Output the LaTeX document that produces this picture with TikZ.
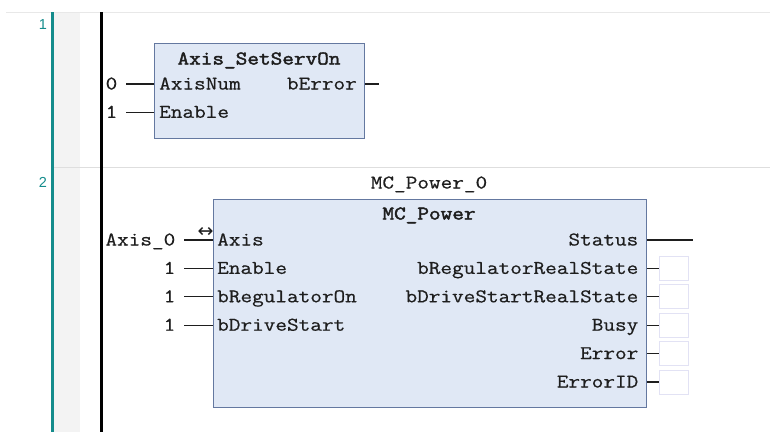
\documentclass[tikz,border=0pt]{standalone}
\usepackage{fontspec}
\newfontfamily\lblfont[FakeStretch=1.165,FakeBold=0.6]{Latin Modern Mono}
\newfontfamily\ttlfont[FakeStretch=1.165,FakeBold=2.2]{Latin Modern Mono}
\newfontfamily\symfont{DejaVu Sans}
\newfontfamily\rowfont{Liberation Sans}
\definecolor{fbfill}{RGB}{224,232,245}
\definecolor{fbborder}{RGB}{100,120,160}
\definecolor{txt}{RGB}{30,30,30}
\definecolor{obox}{RGB}{226,226,244}
\definecolor{bandgrey}{RGB}{243,243,243}
\definecolor{sepgrey}{RGB}{222,222,222}
\definecolor{rowteal}{RGB}{20,140,140}
\begin{document}
\begin{tikzpicture}[x=1pt,y=-1pt,
  lab/.style={font=\lblfont\fontsize{19.4}{20}\selectfont, inner sep=0pt, text height=13pt, text depth=2pt, text=txt},
  ttl/.style={lab, font=\ttlfont\fontsize{19.4}{20}\selectfont},
  fb/.style={draw=fbborder, fill=fbfill, line width=1.3pt, anchor=north west, inner sep=0pt},
  wire/.style={draw=txt, line width=1.3pt},
  outbox/.style={draw=obox, fill=white, line width=1pt, minimum width=29pt, minimum height=24pt, inner sep=0pt},
  rownum/.style={font=\rowfont\fontsize{14.5}{15}\selectfont, text=rowteal, inner sep=0pt},
]
\useasboundingbox (0,0) rectangle (770,432);
\fill[white] (0,0) rectangle (770,432);
% editor background
\fill[bandgrey] (54,12) rectangle (80,432);
\draw[sepgrey!70, line width=1pt] (6,12) -- (770,12);
\draw[sepgrey, line width=1pt] (53,167) -- (770,167);
\draw[rowteal, line width=2.6pt] (52.5,12) -- (52.5,432);
\draw[black, line width=3pt] (101.5,12) -- (101.5,432);
\node[rownum] (r1) at (43,25) {1};
\node[rownum] (r2) at (43,182) {2};

% ---- network 1
\node[fb, minimum width=210pt, minimum height=95pt] (fb1) at (154,43) {};
\node[ttl] (t1) at (259,59) {Axis\_SetServOn};
\node[lab, anchor=west] (p1a) at (159,84) {AxisNum};
\node[lab, anchor=west] (p1b) at (159,112.3) {Enable};
\node[lab, anchor=east] (p1o) at (357,84) {bError};
\node[lab, anchor=east] (v1a) at (117.5,84) {0};
\node[lab, anchor=east] (v1b) at (117.5,112.3) {1};
\draw[wire] ([xshift=8.5pt]v1a.east) -- (fb1.west |- p1a);
\draw[wire] ([xshift=8.5pt]v1b.east) -- (fb1.west |- p1b);
\coordinate (o1) at (379,84);
\draw[wire] (fb1.east |- p1o) -- (o1);

% ---- network 2
\node[fb, minimum width=433pt, minimum height=208pt] (fb2) at (213,199) {};
\node[lab] (inst) at (429,183) {MC\_Power\_0};
\node[ttl] (t2) at (429,214) {MC\_Power};
\node[lab, anchor=west] (i1) at (217,240) {Axis};
\node[lab, anchor=west] (i2) at (217,268.4) {Enable};
\node[lab, anchor=west] (i3) at (217,296.8) {bRegulatorOn};
\node[lab, anchor=west] (i4) at (217,325.2) {bDriveStart};
\node[lab, anchor=east] (a1) at (175.5,240) {Axis\_0};
\node[lab, anchor=east] (a2) at (175.5,268.4) {1};
\node[lab, anchor=east] (a3) at (175.5,296.8) {1};
\node[lab, anchor=east] (a4) at (175.5,325.2) {1};
\foreach \k in {1,...,4}{
  \draw[wire] ([xshift=8.5pt]a\k.east) -- (fb2.west |- i\k);
}
\node[font=\symfont\fontsize{19}{19}\selectfont, inner sep=0pt, text=txt] (io) at (205.5,232) {↔};

\node[lab, anchor=east] (o1n) at (638.5,240) {Status};
\node[lab, anchor=east] (o2n) at (638.5,268.4) {bRegulatorRealState};
\node[lab, anchor=east] (o3n) at (638.5,296.8) {bDriveStartRealState};
\node[lab, anchor=east] (o4n) at (638.5,325.2) {Busy};
\node[lab, anchor=east] (o5n) at (638.5,353.6) {Error};
\node[lab, anchor=east] (o6n) at (638.5,382) {ErrorID};
\coordinate (st) at (693,240);
\draw[wire] (fb2.east |- o1n) -- (st);
\foreach \k in {2,...,6}{
  \node[outbox, anchor=west] (ob\k) at (659,0 |- o\k n) {};
  \draw[wire] (fb2.east |- o\k n) -- (ob\k.west);
}
\end{tikzpicture}
\end{document}
